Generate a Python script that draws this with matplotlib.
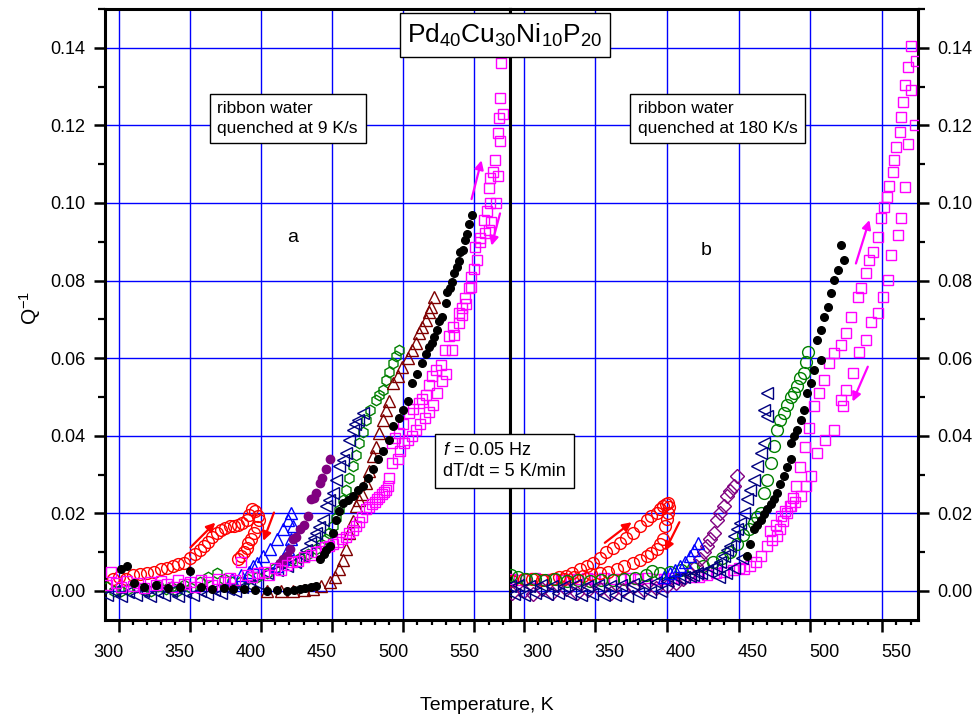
import numpy as np
import matplotlib
matplotlib.use("Agg")
import matplotlib.pyplot as plt
import matplotlib.transforms as mtransforms
from matplotlib.ticker import MultipleLocator, FormatStrFormatter

plt.rcParams['font.family'] = ['Liberation Sans', 'DejaVu Sans']
plt.rcParams['mathtext.fontset'] = 'custom'
plt.rcParams['mathtext.rm'] = 'Liberation Sans'
plt.rcParams['mathtext.it'] = 'Liberation Sans:italic'

# ---------------- panel a (9 K/s) ----------------
red_a_T = [296, 300, 305, 310, 315, 320, 325, 330, 334, 338, 342, 346, 350, 354, 357, 360, 363, 366, 369, 372,
           375, 378, 381, 384, 387, 390, 392, 394, 396, 398, 399, 397, 395, 393, 391, 390, 388, 386, 384]
red_a_Q = [0.003, 0.0035, 0.003, 0.004, 0.0043, 0.0045, 0.005, 0.0056, 0.006, 0.0065, 0.007, 0.0073, 0.0085, 0.0095,
           0.0105, 0.0115, 0.0125, 0.0138, 0.015, 0.0158, 0.0163, 0.0167, 0.0168, 0.017, 0.0175, 0.0184, 0.0195,
           0.021, 0.0205, 0.0193, 0.0184, 0.0165, 0.015, 0.0135, 0.0124, 0.011, 0.0099, 0.009, 0.0081]

blue_a_T = [380, 386, 392, 394.7, 397.1, 401.7, 406.4, 411, 415.6, 419.1, 421.5, 422.6, 421.5, 419.1, 415.6, 411]
blue_a_Q = [0.003, 0.004, 0.005, 0.0064, 0.0073, 0.009, 0.0107, 0.0133, 0.0159, 0.0184, 0.0202, 0.0167, 0.0133,
            0.0107, 0.0081, 0.0064]

navy_a_T = [292, 297, 302, 307, 312, 317, 322, 327, 332, 337, 342, 347, 352, 357, 362, 367, 372, 377, 382, 387,
            392, 397, 404, 411, 418, 424, 429.6, 432, 434.3, 437, 439, 441, 443.6, 446, 448, 450.6, 452.9, 455.2,
            457.5, 459.9, 462.2, 464.5, 466, 468, 471.5]
navy_a_Q = [-0.001, 0.0, -0.0012, -0.0003, -0.001, 0.0, -0.0012, -0.0004, -0.001, 0.0, -0.0013, -0.0002, -0.001,
            0.0, -0.0008, 0.0002, -0.0005, 0.0005, 0.0, 0.001, 0.0015, 0.002, 0.0047, 0.0055, 0.0064, 0.0075,
            0.009, 0.0105, 0.0124, 0.0137, 0.015, 0.0165, 0.0184, 0.0219, 0.0235, 0.0253, 0.0287, 0.0321, 0.0338,
            0.0356, 0.039, 0.0416, 0.043, 0.0441, 0.0459]

green_a_T = [292, 297, 301.6, 307, 313, 318, 322.6, 328, 333, 337, 341.2, 346, 351, 357.5, 363, 369.1, 374, 380,
             385.4, 391, 397, 404, 410, 415.6, 421, 427.3, 433, 439, 442, 446, 448, 450.6, 453, 455.2, 457.5,
             459.9, 462, 464.5, 467, 469.2, 471.5, 474, 477, 480.9, 483, 485.5, 487.8, 490, 492.5, 495, 497.1]
green_a_Q = [0.001, 0.0, 0.0, 0.0005, 0.001, 0.0003, 0.0, 0.0012, 0.0005, 0.001, 0.0, 0.0015, 0.0008, 0.0022,
             0.0035, 0.0047, 0.003, 0.0022, 0.0022, 0.003, 0.0035, 0.0047, 0.006, 0.0073, 0.008, 0.0086, 0.0095,
             0.0107, 0.012, 0.0133, 0.015, 0.0167, 0.0188, 0.0208, 0.0235, 0.0261, 0.029, 0.0321, 0.035, 0.0381,
             0.041, 0.0441, 0.0467, 0.0493, 0.0505, 0.0518, 0.0544, 0.0565, 0.0587, 0.0605, 0.0621]

maroon_a_T = [404, 414, 422.6, 430, 436.6, 442, 448.3, 452, 455.2, 458, 459.9, 462.2, 464.5, 466.9, 469, 471,
              473.9, 476, 478.5, 481, 483.2, 485.5, 487.8, 490, 492.5, 496, 499.4, 503, 506.4, 509, 511, 513.5,
              515.8, 518, 519.3, 521.6]
maroon_a_Q = [0.0, 0.0, 0.0, 0.0002, 0.0004, 0.0012, 0.0022, 0.0035, 0.0056, 0.008, 0.0107, 0.015, 0.018, 0.0219,
              0.0235, 0.025, 0.0279, 0.031, 0.0347, 0.037, 0.0407, 0.044, 0.0467, 0.049, 0.0536, 0.0555, 0.0578,
              0.06, 0.0621, 0.064, 0.0664, 0.068, 0.0698, 0.072, 0.0733, 0.0758]

purple_a_T = [413.3, 415.6, 418, 420.3, 422.6, 425, 427.3, 430, 433.1, 435.5, 437, 439, 441.3, 443, 446, 448.3]
purple_a_Q = [0.0073, 0.0081, 0.009, 0.0107, 0.0133, 0.014, 0.0159, 0.017, 0.0193, 0.0236, 0.024, 0.0253, 0.0279,
              0.029, 0.0313, 0.0339]

black_a_T = [301.6, 306.3, 311, 318, 326, 335, 343, 350.5, 358, 366, 374, 380.7, 388, 396, 404, 411, 418, 423,
             427.3, 431, 435, 439, 441.3, 444, 446, 448.3, 450.6, 453, 455, 457.5, 461, 464.5, 468, 471.5, 475,
             478.5, 482, 486, 490, 493, 497, 500, 503, 506.4, 510, 513.4, 516, 518, 520, 521.6, 524, 525, 527,
             529.7, 530.9, 533, 534.4, 536, 537.8, 539, 540.2, 542, 543.7, 545, 546.5, 548]
black_a_Q = [0.0056, 0.0064, 0.002, 0.001, 0.0015, 0.0008, 0.001, 0.0051, 0.001, 0.0005, 0.0008, 0.0004, 0.0005,
             0.0003, 0.0, 0.0002, 0.0, 0.0003, 0.0004, 0.0008, 0.001, 0.0013, 0.0081, 0.0095, 0.0105, 0.0116,
             0.015, 0.0184, 0.0205, 0.0227, 0.0235, 0.0244, 0.026, 0.027, 0.029, 0.0313, 0.034, 0.036, 0.039,
             0.0424, 0.0445, 0.0467, 0.049, 0.0536, 0.056, 0.0587, 0.061, 0.063, 0.0639, 0.0655, 0.0673, 0.0695,
             0.0707, 0.0741, 0.0771, 0.078, 0.0797, 0.082, 0.0835, 0.085, 0.0874, 0.088, 0.0904, 0.092, 0.0947,
             0.0968]

mag_a_T = [292, 295, 298, 302, 306, 310, 314, 318, 322, 326, 330, 334, 338, 342, 346, 350, 354, 358, 362, 366,
           370, 374, 378, 382, 386, 390, 394, 398, 402, 406, 410, 414, 418, 422,
           426, 430, 435, 439, 442, 445, 448, 451, 454, 457, 460, 462, 465, 467, 469, 471, 474, 476, 478, 480,
           481.8, 483, 485, 486.5, 487.8, 489, 490, 492,
           492, 494, 497, 500, 504, 507, 511, 513, 515.8, 518, 520.4, 523, 526.3, 529, 532, 535, 539, 541,
           543.7, 546, 547.9, 550, 551.6, 554, 556.5, 559, 561.2, 560, 561.2, 563, 564.7, 566.5, 567, 568,
           569, 570, 568, 566.5, 565, 562, 560, 557.2, 554, 550.7, 547.9, 544, 541, 539, 536, 534, 530, 527,
           524, 521, 518, 515, 512, 509, 506, 503, 500.6, 498, 496]
mag_a_Q = [0.0015, 0.0048, 0.002, 0.001, 0.0025, 0.0013, 0.002, 0.0008, 0.0022, 0.0015, 0.0025, 0.0017, 0.001,
           0.0028, 0.0018, 0.0022, 0.001, 0.0028, 0.0024, 0.0016, 0.003, 0.0022, 0.0034, 0.0028, 0.0075, 0.004,
           0.0036, 0.0045, 0.005, 0.0042, 0.006, 0.0055, 0.0068, 0.0074,
           0.0078, 0.0088, 0.0092, 0.010, 0.0104, 0.0112, 0.0116, 0.0122, 0.0125, 0.0133, 0.014, 0.015, 0.0158,
           0.0167, 0.0178, 0.019, 0.021, 0.0215, 0.0225, 0.0229, 0.0236, 0.0243, 0.025, 0.0255, 0.026, 0.027,
           0.029, 0.033,
           0.0382, 0.0395, 0.0407, 0.043, 0.0459, 0.047, 0.0485, 0.0495, 0.0506, 0.053, 0.0553, 0.057, 0.0583,
           0.062, 0.0656, 0.068, 0.0716, 0.073, 0.0755, 0.078, 0.081, 0.083, 0.0853, 0.09, 0.0956, 0.098, 0.0999,
           0.1038, 0.1064, 0.108, 0.111, 0.118, 0.122, 0.127,
           0.136, 0.123, 0.116, 0.107, 0.1, 0.095, 0.093, 0.0922, 0.091, 0.0887, 0.0784, 0.074, 0.071, 0.069,
           0.066, 0.062, 0.056, 0.054, 0.051, 0.048, 0.046, 0.0445, 0.043, 0.0415, 0.040, 0.039, 0.038, 0.036,
           0.034]

# ---------------- panel b (180 K/s) ----------------
red_b_T = [292, 300, 306, 313, 320.3, 325, 329.7, 334, 339, 344, 348.4, 353, 357.7, 362, 367, 371.5, 376.4, 381,
           385.8, 389, 392.8, 395, 397.4, 399, 400.9, 401.5, 400.9, 399.8, 398.5, 397.4, 395, 392.8, 389, 385.8,
           381, 376.4, 370, 364.8, 359, 353, 347, 341.3, 335, 328]
red_b_Q = [0.0025, 0.003, 0.003, 0.0028, 0.003, 0.0035, 0.0039, 0.0047, 0.0056, 0.0064, 0.0073, 0.0085, 0.0099,
           0.011, 0.0124, 0.0137, 0.015, 0.0167, 0.0184, 0.0193, 0.0202, 0.021, 0.0219, 0.0224, 0.0227, 0.0215,
           0.0202, 0.0185, 0.0167, 0.0133, 0.012, 0.0107, 0.0098, 0.009, 0.008, 0.0073, 0.0064, 0.0056, 0.005,
           0.0047, 0.0043, 0.0039, 0.0035, 0.003]

navy_b_T = [290.5, 293, 296, 300, 304, 308, 312, 316, 320, 324, 328, 332, 336, 340, 344, 348, 352, 356, 360, 364,
            368, 372, 376, 380, 384, 388, 392, 396, 400, 404, 408, 412, 416, 418.4, 421, 424, 427.8, 431, 434,
            437.1, 439.5, 441.8, 444.2, 446.5, 449, 451.2, 453.5, 455.8, 458.2, 460.5, 462.9, 465.2, 467.5,
            469.9, 467.5, 469.9, 436, 441, 447, 452]
navy_b_Q = [0.0013, -0.0008, 0.0015, -0.001, 0.0012, -0.0005, 0.0014, -0.0009, 0.0013, -0.0006, 0.0012, -0.0008,
            0.0014, -0.001, 0.0013, -0.0009, 0.0015, -0.001, 0.0013, -0.0011, 0.0016, -0.0012, 0.0017, -0.0006,
            0.0019, -0.0004, 0.0022, 0.0, 0.0025, 0.003, 0.0033, 0.0037, 0.0039, 0.0042, 0.0045, 0.0047, 0.0052,
            0.0058, 0.0064, 0.0075, 0.009, 0.0105, 0.0116, 0.0141, 0.016, 0.0176, 0.0202, 0.0236, 0.0261, 0.0287,
            0.0321, 0.0356, 0.0381, 0.045, 0.0467, 0.051, 0.0035, 0.0045, 0.006, 0.0085]

purple_b_T = [292, 300, 306.3, 313, 320, 329.7, 337, 345, 353, 361, 369, 376.4, 384, 392, 399.8, 406, 411, 416.1,
              420, 423.1, 425.5, 427.8, 430, 432.5, 434.8, 437, 439.5, 441.8, 444.2, 446.5, 448.8]
purple_b_Q = [-0.0005, 0.0, -0.0008, 0.0004, -0.0005, 0.0004, -0.0006, 0.0002, 0.0004, -0.0005, 0.0003, 0.0009,
              0.0002, 0.0008, 0.0013, 0.002, 0.003, 0.0047, 0.0065, 0.0081, 0.01, 0.0116, 0.0133, 0.015, 0.0184,
              0.02, 0.0219, 0.0244, 0.0257, 0.027, 0.0296]

blue_b_T = [398, 402.1, 405.5, 409.1, 412.5, 416.1, 419, 421.9]
blue_b_Q = [0.0035, 0.0047, 0.0055, 0.0064, 0.0075, 0.009, 0.0105, 0.0124]

green_b_T = [291, 296, 302, 308, 315, 322, 330, 338, 346, 354, 362, 370, 378, 385, 389.3, 395, 402, 410, 418, 425,
             432, 438, 444, 449, 453, 457, 460.5, 463, 465.2, 467.5, 469.9, 472.2, 474.5, 476.9, 479, 481.5, 484,
             486.2, 488.5, 490.9, 493, 495.5, 497, 498]
green_b_Q = [0.004, 0.0035, 0.003, 0.003, 0.0028, 0.003, 0.0026, 0.0028, 0.0025, 0.0027, 0.0028, 0.003, 0.0032,
             0.004, 0.0051, 0.0047, 0.005, 0.0055, 0.006, 0.0065, 0.0075, 0.0085, 0.01, 0.012, 0.0145, 0.016,
             0.0176, 0.019, 0.0202, 0.0253, 0.0287, 0.033, 0.0373, 0.0416, 0.044, 0.0459, 0.048, 0.0501, 0.051,
             0.0527, 0.055, 0.0561, 0.059, 0.0617]

black_b_T = [455.8, 458.2, 460.5, 462.9, 465.2, 467.5, 469.9, 472.2, 474.5, 476.9, 479, 481.5, 484, 486.2, 486.2,
             488.5, 490.8, 493.2, 495.5, 497.9, 500.2, 502.5, 504.9, 507.2, 507.2, 509.6, 511.9, 514.2, 516.6,
             518.9, 521.1, 523.6]
black_b_Q = [0.009, 0.012, 0.0159, 0.017, 0.0184, 0.0197, 0.021, 0.0223, 0.0236, 0.0253, 0.0275, 0.0296, 0.032,
             0.0339, 0.0381, 0.04, 0.0416, 0.0441, 0.0467, 0.051, 0.0536, 0.057, 0.0647, 0.0596, 0.0673, 0.0707,
             0.0733, 0.0767, 0.0801, 0.0827, 0.0891, 0.0853]

mag_b_T = [292, 297, 302, 308, 314, 320, 326, 332, 338, 344, 350, 356, 362, 368, 374, 380, 386, 392, 398, 404,
           410, 416, 422, 428, 434, 440, 446, 450, 453.5, 458.2, 462, 465.2, 469.9, 473, 476.9,
           479, 481, 484, 486, 488, 490, 493, 496, 499, 502.5, 506, 509.6, 513, 516.6, 521.3, 524.8, 528.3, 533,
           535.3, 538.8, 541.1, 543.5, 547, 549.3, 551.6, 553.5, 555.1, 557.5, 558.6, 559.8, 562.1, 563.3, 564.5,
           565.6, 568, 570.2, 570.2, 573.8,
           572.6, 568, 565.6, 563.3, 561, 556.3, 554, 550.5, 547, 542.3, 538.8, 534.1, 529.5, 524.8, 521.3,
           522.5, 516.6, 510, 504.9, 500.2, 497, 493.2, 489, 486.2, 482, 479.2, 476, 472]
mag_b_Q = [0.003, 0.0028, 0.003, 0.0032, 0.0028, 0.003, 0.0029, 0.0031, 0.003, 0.0032, 0.003, 0.0033, 0.0031,
           0.003, 0.0032, 0.003, 0.0033, 0.0031, 0.003, 0.0032, 0.0033, 0.0035, 0.0036, 0.004, 0.0045, 0.005,
           0.0055, 0.006, 0.0056, 0.0064, 0.0075, 0.009, 0.0116, 0.013, 0.0141,
           0.016, 0.018, 0.02, 0.0219, 0.024, 0.027, 0.032, 0.037, 0.042, 0.0476, 0.051, 0.0544, 0.0587, 0.0613,
           0.0634, 0.0664, 0.0707, 0.0758, 0.078, 0.0819, 0.0853, 0.0874, 0.0913, 0.096, 0.099, 0.1015, 0.1045,
           0.108, 0.111, 0.1144, 0.1183, 0.1221, 0.126, 0.1303, 0.135, 0.129, 0.1405, 0.1366,
           0.12, 0.1153, 0.1041, 0.096, 0.0917, 0.0866, 0.0801, 0.0758, 0.0716, 0.0694, 0.0647, 0.0617, 0.0561,
           0.0519, 0.0493, 0.0476, 0.0416, 0.039, 0.0356, 0.0296, 0.027, 0.0244, 0.023, 0.0219, 0.0205, 0.0193,
           0.017, 0.0155]

# arrows: (colour, T_start, Q_start, T_end, Q_end)
arrows_a = [('red', 350.5, 0.0112, 368, 0.0176), ('red', 409.2, 0.0202, 401.7, 0.0129),
            ('#ff00ff', 548, 0.101, 555, 0.111), ('#ff00ff', 568, 0.0973, 562, 0.089)]
arrows_b = [('red', 356.6, 0.0124, 375.3, 0.0177), ('red', 408.6, 0.0177, 398.6, 0.0103),
            ('#ff00ff', 531.7, 0.0844, 541.1, 0.0956), ('#ff00ff', 540, 0.0578, 529.4, 0.0488)]

fig = plt.figure(figsize=(9.73, 7.2), dpi=100)
ax_a = fig.add_axes([105/973, 1 - 620/720, 405/973, 611/720])
ax_b = fig.add_axes([510/973, 1 - 620/720, 408/973, 611/720])


def pts(ax, T, Q, marker, color, ms, filled=False, mew=1.0):
    fc = color if filled else 'none'
    ax.plot(T, Q, linestyle='none', marker=marker, ms=ms, mfc=fc, mec=color, mew=mew, zorder=3)


def style(ax, side, label_shift):
    ax.set_xlim(290.5, 575)
    ax.set_ylim(-0.0075, 0.150)
    ax.xaxis.set_major_locator(MultipleLocator(50))
    ax.xaxis.set_minor_locator(MultipleLocator(10))
    ax.yaxis.set_major_locator(MultipleLocator(0.02))
    ax.yaxis.set_minor_locator(MultipleLocator(0.01))
    ax.yaxis.set_major_formatter(FormatStrFormatter('%.2f'))
    ax.grid(True, which='major', color='#0000ff', lw=1.0, zorder=0)
    ax.set_axisbelow(True)
    for sp in ax.spines.values():
        sp.set_linewidth(2.2)
    ax.tick_params(axis='x', which='major', direction='out', length=8.4, width=1.8, pad=9, labelsize=13)
    ax.tick_params(axis='x', which='minor', direction='out', length=3.6, width=1.6)
    ax.tick_params(axis='y', which='major', direction='out', length=8, width=1.8, pad=6, labelsize=13)
    ax.tick_params(axis='y', which='minor', direction='out', length=5, width=1.6)
    if side == 'left':
        ax.tick_params(axis='y', which='both', left=True, right=False, labelleft=True, labelright=False)
    else:
        ax.tick_params(axis='y', which='both', left=False, right=True, labelleft=False, labelright=True)
    off = mtransforms.ScaledTranslation(label_shift / 100, 0, fig.dpi_scale_trans)
    for lab in ax.get_xticklabels():
        lab.set_transform(lab.get_transform() + off)


style(ax_a, 'left', -10)
style(ax_b, 'right', 14)

# panel a
pts(ax_a, red_a_T, red_a_Q, 'o', '#ff0000', 8.5)
pts(ax_a, green_a_T, green_a_Q, 'h', '#008000', 7.5)
pts(ax_a, navy_a_T, navy_a_Q, '<', '#000080', 8.5)
pts(ax_a, blue_a_T, blue_a_Q, '^', '#0000ff', 8.5)
pts(ax_a, maroon_a_T, maroon_a_Q, '^', '#800000', 8.5)
pts(ax_a, purple_a_T, purple_a_Q, 'o', '#800080', 6, filled=True)
pts(ax_a, mag_a_T, mag_a_Q, 's', '#ff00ff', 7.8)
pts(ax_a, black_a_T, black_a_Q, 'o', 'black', 5.5, filled=True)

# panel b
pts(ax_b, mag_b_T, mag_b_Q, 's', '#ff00ff', 7.8)
pts(ax_b, red_b_T, red_b_Q, 'o', '#ff0000', 8.5)
pts(ax_b, green_b_T, green_b_Q, 'o', '#008000', 8.5)
pts(ax_b, purple_b_T, purple_b_Q, 'D', '#800080', 7)
pts(ax_b, navy_b_T, navy_b_Q, '<', '#000080', 8.5)
pts(ax_b, blue_b_T, blue_b_Q, '^', '#0000ff', 8.5)
pts(ax_b, black_b_T, black_b_Q, 'o', 'black', 5.5, filled=True)

for ax, arrs in ((ax_a, arrows_a), (ax_b, arrows_b)):
    for c, t0, q0, t1, q1 in arrs:
        ax.annotate('', xy=(t1, q1), xytext=(t0, q0),
                    arrowprops=dict(arrowstyle='-|>', color=c, lw=1.6, mutation_scale=13,
                                    shrinkA=0, shrinkB=0), zorder=5)

box = dict(boxstyle='square,pad=0.45', fc='white', ec='black', lw=1.0)
ax_a.text(369.5, 0.1262, 'ribbon water\nquenched at 9 K/s', fontsize=12.5, va='top', ha='left',
          linespacing=1.35, bbox=box, zorder=6)
ax_b.text(379.5, 0.1262, 'ribbon water\nquenched at 180 K/s', fontsize=12.5, va='top', ha='left',
          linespacing=1.35, bbox=box, zorder=6)
ax_a.text(422.5, 0.0911, 'a', fontsize=14, ha='center', va='center')
ax_b.text(427.2, 0.0878, 'b', fontsize=14, ha='center', va='center')

fig.text(443/973, 1 - 442/720, '$\\it{f}$ = 0.05 Hz\ndT/dt = 5 K/min', fontsize=13, va='top', ha='left',
         linespacing=1.3, bbox=box, zorder=6)
fig.text(505/973, 1 - 35/720, 'Pd$_{40}$Cu$_{30}$Ni$_{10}$P$_{20}$', fontsize=19, ha='center', va='center',
         bbox=dict(boxstyle='square,pad=0.3', fc='white', ec='black', lw=1.0), zorder=6)

fig.text(487/973, 1 - 706/720, 'Temperature, K', fontsize=14, ha='center', va='center')
fig.text(30/973, 1 - 308/720, 'Q$^{-1}$', fontsize=15, ha='center', va='center', rotation=90)

fig.savefig('out.png', dpi=100)
